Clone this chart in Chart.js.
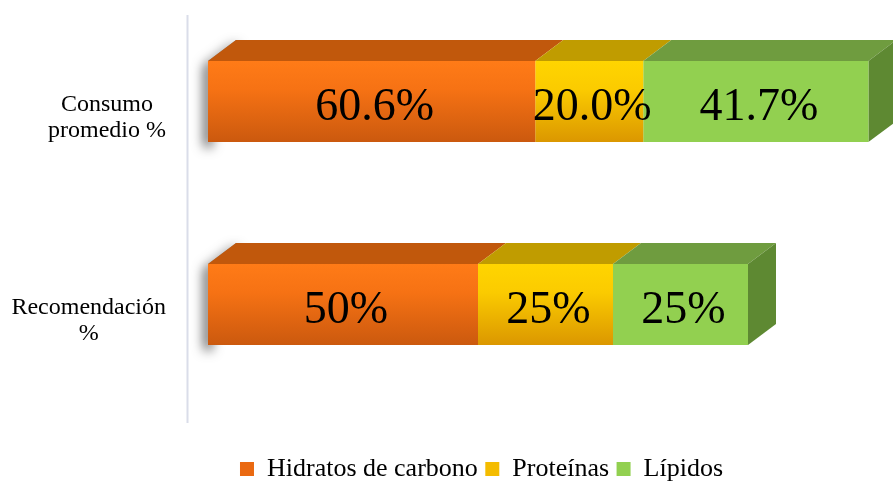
<!DOCTYPE html>
<html>
<head>
<meta charset="utf-8">
<title>Consumo promedio vs recomendación</title>
<style>
  html, body { margin: 0; padding: 0; background: #ffffff; overflow: hidden; }
  #wrap { width: 893px; height: 481px; position: relative; }
</style>
<script src="https://cdn.jsdelivr.net/npm/chart.js@4.4.1/dist/chart.umd.min.js"></script>
</head>
<body>
<div id="wrap"><canvas id="chart"></canvas></div>
<script>
// Categories (multi-line labels) and series values, in percent
const categories = [['Consumo', 'promedio %'], ['Recomendación', '%']];
const seriesNames = ['Hidratos de carbono', 'Proteínas', 'Lípidos'];
const hidratos = [60.6, 50];
const proteinas = [20.0, 25];
const lipidos = [41.7, 25];
const labelDecimals = [1, 0];   // decimals shown in each category's value labels
const xMin = 0;
const xMax = 125;

// Colours per series: front gradient, top lid, right side, legend swatch
const palette = [
  { top: '#FF7B17', mid: '#F67214', bottom: '#CB590E', lid: '#C1580C', side: '#A84B0A', swatch: '#EA6911' },
  { top: '#FFD500', mid: '#FBCB00', bottom: '#DB9700', lid: '#C09C00', side: '#A38500', swatch: '#F4BC00' },
  { top: '#92D050', mid: '#92D050', bottom: '#92D050', lid: '#6F9C3F', side: '#5E8932', swatch: '#92D050' }
];

const DEPTH_X = 28;
const DEPTH_Y = 21;
const VALUE_FONT = '46px "Liberation Serif", "Times New Roman", serif';
const CAT_FONT = '24px "Liberation Serif", "Times New Roman", serif';

function frontFill(i) {
  return (ctx) => {
    const chart = ctx.chart;
    const ys = chart.scales.y;
    if (!ys || ctx.type !== 'data') return palette[i].swatch;
    const c = ys.getPixelForValue(ctx.dataIndex);
    const half = ys.height / categories.length * 0.8 * 0.5 / 2;
    const g = chart.ctx.createLinearGradient(0, c - half, 0, c + half);
    g.addColorStop(0, palette[i].top);
    g.addColorStop(0.35, palette[i].mid);
    g.addColorStop(1, palette[i].bottom);
    return g;
  };
}

// Extruded lids, right side and left shadow, drawn behind the bar fronts
const boxes3d = {
  id: 'boxes3d',
  beforeDatasetsDraw(chart) {
    const ctx = chart.ctx;
    const nSets = chart.data.datasets.length;
    const metaFirst = chart.getDatasetMeta(0);
    metaFirst.data.forEach((el) => {
      const p = el.getProps(['x', 'y', 'base', 'height'], true);
      const top = p.y - p.height / 2, bottom = p.y + p.height / 2, b = p.base;
      ctx.save();
      ctx.shadowColor = 'rgba(0,0,0,0.7)';
      ctx.shadowBlur = 12;
      ctx.shadowOffsetX = -4;
      ctx.shadowOffsetY = 5;
      ctx.fillStyle = '#8a8a8a';
      ctx.beginPath();
      ctx.moveTo(b, bottom);
      ctx.lineTo(b, top);
      ctx.lineTo(b + DEPTH_X, top - DEPTH_Y);
      ctx.lineTo(b + DEPTH_X + 8, top - DEPTH_Y);
      ctx.lineTo(b + 8, top);
      ctx.lineTo(b + 8, bottom);
      ctx.closePath();
      ctx.fill();
      ctx.restore();
    });
    for (let i = 0; i < nSets; i++) {
      const meta = chart.getDatasetMeta(i);
      meta.data.forEach((el) => {
        const p = el.getProps(['x', 'y', 'base', 'height'], true);
        const top = p.y - p.height / 2, bottom = p.y + p.height / 2;
        ctx.save();
        ctx.fillStyle = palette[i].lid;
        ctx.beginPath();
        ctx.moveTo(p.base, top);
        ctx.lineTo(p.x, top);
        ctx.lineTo(p.x + DEPTH_X, top - DEPTH_Y);
        ctx.lineTo(p.base + DEPTH_X, top - DEPTH_Y);
        ctx.closePath();
        ctx.fill();
        if (i === nSets - 1) {
          ctx.fillStyle = palette[i].side;
          ctx.beginPath();
          ctx.moveTo(p.x, top);
          ctx.lineTo(p.x + DEPTH_X, top - DEPTH_Y);
          ctx.lineTo(p.x + DEPTH_X, bottom - DEPTH_Y);
          ctx.lineTo(p.x, bottom);
          ctx.closePath();
          ctx.fill();
        }
        ctx.restore();
      });
    }
  },
  afterDatasetsDraw(chart) {
    const ctx = chart.ctx;
    // value labels centred on each segment's front face
    chart.data.datasets.forEach((ds, i) => {
      chart.getDatasetMeta(i).data.forEach((el, j) => {
        const p = el.getProps(['x', 'y', 'base'], true);
        const txt = ds.data[j].toFixed(labelDecimals[j]) + '%';
        ctx.save();
        ctx.font = VALUE_FONT;
        ctx.fillStyle = '#000000';
        ctx.textAlign = 'center';
        ctx.textBaseline = 'middle';
        ctx.fillText(txt, (p.x + p.base) / 2 + 3, p.y + 6);
        ctx.restore();
      });
    });
  },
  afterDraw(chart) {
    const ctx = chart.ctx;
    const area = chart.chartArea;
    const ys = chart.scales.y;
    // vertical category axis line
    ctx.save();
    ctx.strokeStyle = '#DADDE9';
    ctx.lineWidth = 2;
    ctx.beginPath();
    ctx.moveTo(area.left - 20.5, area.top + 15);
    ctx.lineTo(area.left - 20.5, area.bottom + 17);
    ctx.stroke();
    ctx.restore();
    // category labels, lines centred within a right-aligned block
    chart.data.labels.forEach((lab, j) => {
      const lines = Array.isArray(lab) ? lab : [lab];
      ctx.save();
      ctx.font = CAT_FONT;
      ctx.fillStyle = '#000000';
      ctx.textAlign = 'center';
      ctx.textBaseline = 'middle';
      const w = Math.max(...lines.map(s => ctx.measureText(s).width));
      const cx = area.left - 42 - w / 2;
      const cy = ys.getPixelForValue(j) + 16.5;
      lines.forEach((s, k) => {
        ctx.fillText(s, cx, cy + (k - (lines.length - 1) / 2) * 26);
      });
      ctx.restore();
    });
  }
};

const seriesValues = [hidratos, proteinas, lipidos];

new Chart(document.getElementById('chart'), {
  type: 'bar',
  data: {
    labels: categories,
    datasets: seriesNames.map((name, i) => ({
      label: name,
      data: seriesValues[i],
      backgroundColor: frontFill(i),
      borderWidth: 0,
      categoryPercentage: 0.8,
      barPercentage: 0.5
    }))
  },
  options: {
    indexAxis: 'y',
    responsive: true,
    maintainAspectRatio: false,
    animation: false,
    events: [],
    layout: { padding: { left: 80, right: 10, top: 0, bottom: -11 } },
    scales: {
      x: {
        stacked: true,
        min: xMin,
        max: xMax,
        display: true,
        grid: { display: false },
        border: { display: false },
        ticks: { display: false },
        afterFit: (s) => { s.height = 42.5; }
      },
      y: {
        stacked: true,
        display: true,
        grid: { display: false },
        border: { display: false },
        ticks: { display: false },
        afterFit: (s) => { s.width = 128; }
      }
    },
    plugins: {
      tooltip: { enabled: false },
      legend: {
        position: 'bottom',
        labels: {
          boxWidth: 14,
          boxHeight: 14,
          padding: 7.5,
          color: '#000000',
          font: { family: '"Liberation Serif", "Times New Roman", serif', size: 26 },
          generateLabels: (chart) => chart.data.datasets.map((ds, i) => ({
            text: ds.label,
            fillStyle: palette[i].swatch,
            strokeStyle: palette[i].swatch,
            lineWidth: 0,
            hidden: false,
            datasetIndex: i,
            fontColor: '#000000'
          }))
        }
      }
    }
  },
  plugins: [boxes3d]
});
</script>
</body>
</html>
